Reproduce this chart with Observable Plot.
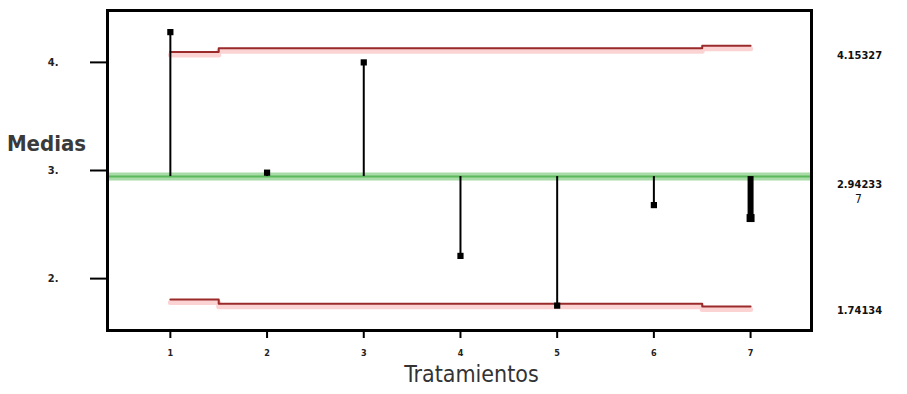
<!DOCTYPE html>
<html><head><meta charset="utf-8">
<script src="https://cdn.jsdelivr.net/npm/d3@7"></script>
<script src="https://cdn.jsdelivr.net/npm/@observablehq/plot@0.6"></script>
<style>body{margin:0;background:#fff;overflow:hidden}</style>
</head><body><div id="chart"></div>
<script>
const treatments = [1, 2, 3, 4, 5, 6, 7];
const means = [4.28, 2.98, 4.00, 2.21, 1.75, 2.68, 2.56];
const centerLine = 2.944;
const upperLimits = [4.097, 4.13, 4.13, 4.13, 4.13, 4.13, 4.153];
const lowerLimits = [1.806, 1.768, 1.768, 1.768, 1.768, 1.768, 1.741];
const yTicks = [2, 3, 4];
const yTickLabels = ["2.", "3.", "4."];
const limitLabels = ["4.15327", "2.94233", "1.74134"];
const extraLabel = "7";

const rows = treatments.map((t, i) => ({t, mean: means[i], up: upperLimits[i], lo: lowerLimits[i]}));
const font = "'DejaVu Sans Condensed', 'Liberation Sans Narrow', sans-serif";

const chart = Plot.plot({
  width: 907,
  height: 394,
  marginLeft: 107,
  marginRight: 96,
  marginTop: 10,
  marginBottom: 64,
  style: {fontFamily: font, background: "#fff"},
  x: {domain: [0.35, 7.63]},
  y: {domain: [1.52, 4.48]},
  marks: [
    Plot.axisY(yTicks, {tickSize: 17, tickPadding: 32, strokeWidth: 2, tickFormat: (d) => yTickLabels[yTicks.indexOf(d)], fontSize: 11, fontWeight: "bold", fill: "#222", label: null}),
    Plot.axisX(treatments, {tickSize: 8, tickPadding: 11, strokeWidth: 2, fontSize: 9, fontWeight: "bold", fill: "#222", label: null}),
    // center line
    Plot.ruleY([centerLine], {stroke: "#a8dba8", strokeWidth: 8}),
    Plot.ruleY([centerLine], {stroke: "#5cb85c", strokeWidth: 2}),
    // limit halos
    Plot.line(rows, {x: "t", y: "up", curve: "step", stroke: "#fbd3d3", strokeWidth: 5, dy: 3}),
    Plot.line(rows, {x: "t", y: "lo", curve: "step", stroke: "#fbd3d3", strokeWidth: 5, dy: 3}),
    // limit lines
    Plot.line(rows, {x: "t", y: "up", curve: "step", stroke: "#9b2a2a", strokeWidth: 2}),
    Plot.line(rows, {x: "t", y: "lo", curve: "step", stroke: "#9b2a2a", strokeWidth: 2}),
    // stems
    Plot.ruleX(rows, {filter: (d) => d.t !== 7, x: "t", y1: centerLine, y2: "mean", stroke: "#000", strokeWidth: 2}),
    Plot.ruleX(rows, {filter: (d) => d.t === 7, x: "t", y1: centerLine, y2: "mean", stroke: "#000", strokeWidth: 6}),
    Plot.dot(rows, {x: "t", y: "mean", symbol: "square", r: 3.5, fill: "#000"}),
    Plot.dot(rows, {filter: (d) => d.t === 7, x: "t", y: "mean", symbol: "square", r: 4.5, fill: "#000"}),
    Plot.frame({stroke: "#000", strokeWidth: 3}),
    // axis titles
    Plot.text(["Medias"], {x: 0.35, y: 3.25, dx: -61, fontSize: 22, fontWeight: "bold", fill: "#3a3a3a", text: (d) => d}),
    Plot.text(["Tratamientos"], {frameAnchor: "bottom", dy: 51, dx: 12, fontSize: 23, fill: "#333", text: (d) => d}),
    // right-side labels
    Plot.text([limitLabels[0]], {x: 7.63, y: upperLimits[6], dx: 48, dy: 10, fontSize: 11, fontWeight: "bold", fill: "#111", text: (d) => d}),
    Plot.text([limitLabels[1]], {x: 7.63, y: centerLine, dx: 48, dy: 8, fontSize: 11, fontWeight: "bold", fill: "#111", text: (d) => d}),
    Plot.text([extraLabel], {x: 7.63, y: centerLine, dx: 47, dy: 23, fontSize: 12, fill: "#111", text: (d) => d}),
    Plot.text([limitLabels[2]], {x: 7.63, y: lowerLimits[6], dx: 48, dy: 4, fontSize: 11, fontWeight: "bold", fill: "#111", text: (d) => d})
  ]
});
document.getElementById("chart").append(chart);
</script>
</body></html>
